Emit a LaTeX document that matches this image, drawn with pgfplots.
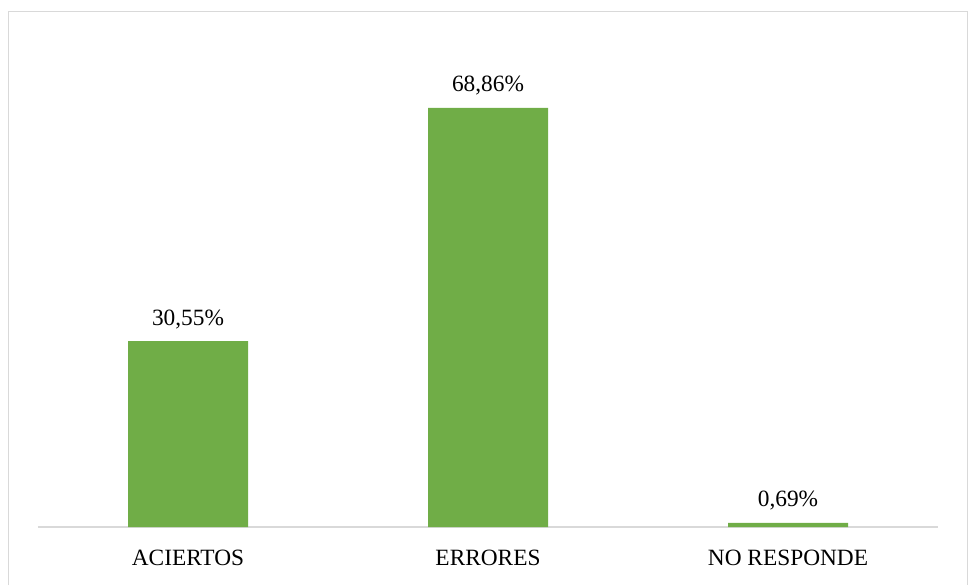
\documentclass[border=0pt]{standalone}
\usepackage{pgfplots}
\pgfplotsset{compat=1.18}
\usepackage{fontspec}
\setmainfont{Liberation Serif}
\definecolor{bargreen}{HTML}{70AD47}
\definecolor{linegray}{HTML}{D9D9D9}

\begin{document}
\begin{tikzpicture}
  \path[use as bounding box] (0,0) rectangle (726.75pt,438.75pt);
  % chart frame (bottom edge lies outside the picture)
  \draw[linegray, line width=1.1pt] (6.375pt,0) -- (6.375pt,430.1pt)
    -- (725.6pt,430.1pt) -- (725.6pt,0);
  \begin{axis}[
      at={(28.5pt,43.5pt)}, anchor=south west,
      scale only axis,
      width=675pt, height=342.3pt,
      xmin=-0.5, xmax=2.5,
      ymin=0, ymax=75,
      axis x line*=bottom,
      axis y line=none,
      x axis line style={-, draw=linegray, line width=0.8pt},
      xtick={0,1,2},
      xticklabels={ACIERTOS, ERRORES, NO RESPONDE},
      xtick style={draw=none},
      xticklabel style={anchor=base, yshift=-28.5pt, font=\fontsize{17.5}{20}\selectfont},
      ytick=\empty,
      clip=false,
    ]
    \addplot[ybar, bar width=90pt, fill=bargreen, draw=none,
      point meta=y,
      nodes near coords={\pgfmathprintnumber[fixed,fixed zerofill,precision=2,use comma,assume math mode=true]{\pgfplotspointmeta}\%},
      every node near coord/.append style={anchor=base, yshift=12pt, inner sep=0pt,
        font=\fontsize{17.5}{20}\selectfont, text=black},
    ] coordinates {(0,30.55) (1,68.86) (2,0.69)};
  \end{axis}
\end{tikzpicture}
\end{document}
